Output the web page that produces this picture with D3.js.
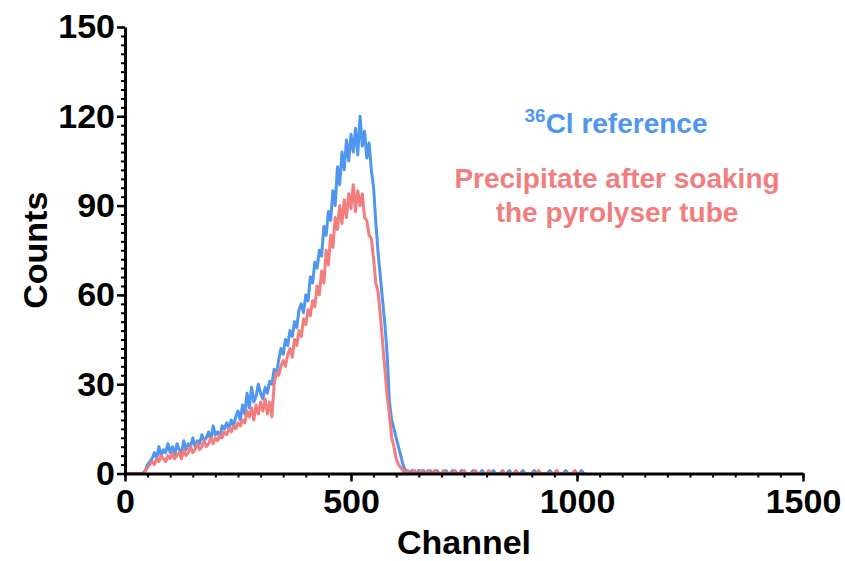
<html>
<head>
<title>Counts vs Channel</title>
<script src="https://d3js.org/d3.v7.min.js" charset="utf-8"></script>
<style>
body { margin: 0; background: white; }
text { font-family: "Liberation Sans", Arial, sans-serif; font-weight: bold; }
</style>
</head>
<body>
<script>
// channel grid (every 5 channels)
var channels = d3.range(0, 1025, 5);

var xTicks = [0, 500, 1000, 1500];
var yTicks = [0, 30, 60, 90, 120, 150];

// 36Cl reference
var blueCounts = [
  0,0,0,0,0,0,0,0,0,
  1,3,4,5,7,5,9,6,8,7,
  10,7,9,6,10,8,7,11,8,10,
  9,12,9,11,10,13,11,12,14,11,
  16,13,14,12,16,15,17,15,18,16,
  19,21,18,23,20,27,22,29,24,26,
  30,27,25,29,27,31,30,35,33,38,
  42,40,45,43,48,46,51,49,55,57,
  54,60,58,66,64,71,69,75,73,83,
  80,88,85,95,90,103,97,108,102,112,
  105,114,108,116,107,120,110,115,106,111,
  102,96,84,74,66,58,50,40,24,18,
  15,12,9,6,3,1,1,0,
  1,0,0,1,0,1,0,0,1,0,
  0,1,0,0,0,1,0,0,1,0,
  0,0,1,0,0,0,0,1,0,0,
  0,1,0,0,0,0,1,0,0,0,
  0,0,0,1,0,0,0,0,0,1,
  0,0,0,0,1,0,0,0,0,0,
  0,1,0,0,0,0,0,0,1,0,
  0,0,0,0,0,1,0,0
];

// precipitate after soaking the pyrolyser tube
var redCounts = [
  0,0,0,0,0,0,0,0,0,
  1,2,3,4,3,5,4,6,5,4,
  6,5,7,5,6,7,5,8,6,7,
  9,7,8,10,8,9,11,9,10,12,
  10,12,11,13,12,14,13,15,14,16,
  15,17,16,18,17,21,19,22,18,23,
  20,24,21,25,20,24,19,30,34,33,
  36,38,36,40,42,39,45,43,48,46,
  52,50,55,53,58,56,63,60,68,64,
  75,70,80,76,86,82,90,84,92,86,
  94,89,97,88,95,90,94,86,85,80,
  79,72,64,61,53,44,35,26,20,12,
  9,5,3,2,1,0,1,0,
  0,1,0,0,1,0,0,1,0,0,
  1,0,0,0,1,0,0,0,0,1,
  0,0,0,1,0,0,0,0,1,0,
  0,0,0,0,1,0,0,0,0,0,
  1,0,0,0,0,0,1,0,0,0,
  0,0,0,0,0,0,1,0,0,0,
  0,0,0,0,1,0,0,0,0,0,
  0,0,1,0,0,0,0,0
];

var blueColor = "#4e96f0";
var redColor = "#f27d7d";

var width = 845, height = 561;
var margin = {top: 27, right: 42, bottom: 87.5, left: 125};

var svg = d3.select("body").append("svg")
  .attr("width", width)
  .attr("height", height);

var x = d3.scaleLinear().domain([0, 1500]).range([margin.left, width - margin.right]);
var y = d3.scaleLinear().domain([0, 150]).range([height - margin.bottom, margin.top]);

var line = d3.line()
  .x(function(d, i) { return x(channels[i]); })
  .y(function(d) { return y(d); });

svg.append("path")
  .datum(blueCounts)
  .attr("fill", "none")
  .attr("stroke", blueColor)
  .attr("stroke-width", 3)
  .attr("stroke-linejoin", "round")
  .attr("d", line);

svg.append("path")
  .datum(redCounts)
  .attr("fill", "none")
  .attr("stroke", redColor)
  .attr("stroke-width", 3)
  .attr("stroke-linejoin", "round")
  .attr("d", line);

// minor ticks
svg.append("g")
  .attr("transform", "translate(" + margin.left + ",0)")
  .call(d3.axisLeft(y).tickValues(d3.range(0, 151, 3)).tickSize(4).tickSizeOuter(0).tickFormat(""))
  .call(function(g) { g.select(".domain").remove(); g.selectAll("line").attr("stroke-width", 2); });

svg.append("g")
  .attr("transform", "translate(0," + (height - margin.bottom) + ")")
  .call(d3.axisBottom(x).tickValues(d3.range(0, 1501, 50)).tickSize(4).tickSizeOuter(0).tickFormat(""))
  .call(function(g) { g.select(".domain").remove(); g.selectAll("line").attr("stroke-width", 2); });

// major axes
var yAxis = svg.append("g")
  .attr("transform", "translate(" + margin.left + ",0)")
  .call(d3.axisLeft(y).tickValues(yTicks).tickSize(8).tickSizeOuter(0).tickPadding(2).tickFormat(d3.format("d")));

var xAxis = svg.append("g")
  .attr("transform", "translate(0," + (height - margin.bottom) + ")")
  .call(d3.axisBottom(x).tickValues(xTicks).tickSize(8).tickSizeOuter(0).tickPadding(7).tickFormat(d3.format("d")));

[yAxis, xAxis].forEach(function(g) {
  g.select(".domain").attr("stroke-width", 3);
  g.selectAll(".tick line").attr("stroke-width", 2.5);
  g.selectAll("text").attr("font-size", 34).attr("font-family", "Liberation Sans, Arial, sans-serif")
    .attr("font-weight", "bold").attr("fill", "#000");
});

// axis titles
svg.append("text")
  .attr("x", (margin.left + width - margin.right) / 2)
  .attr("y", 554)
  .attr("text-anchor", "middle")
  .attr("font-size", 34)
  .text("Channel");

svg.append("text")
  .attr("transform", "translate(47," + (margin.top + height - margin.bottom) / 2 + ") rotate(-90)")
  .attr("text-anchor", "middle")
  .attr("font-size", 34)
  .text("Counts");

// legend
var leg1 = svg.append("text")
  .attr("x", 616)
  .attr("y", 133)
  .attr("text-anchor", "middle")
  .attr("font-size", 28)
  .attr("fill", blueColor);
leg1.append("tspan").attr("font-size", 19).attr("dy", -11).text("36");
leg1.append("tspan").attr("dy", 11).text("Cl reference");

svg.append("text")
  .attr("x", 617)
  .attr("y", 188)
  .attr("text-anchor", "middle")
  .attr("font-size", 28)
  .attr("fill", redColor)
  .text("Precipitate after soaking");

svg.append("text")
  .attr("x", 617)
  .attr("y", 222)
  .attr("text-anchor", "middle")
  .attr("font-size", 28)
  .attr("fill", redColor)
  .text("the pyrolyser tube");
</script>
</body>
</html>
